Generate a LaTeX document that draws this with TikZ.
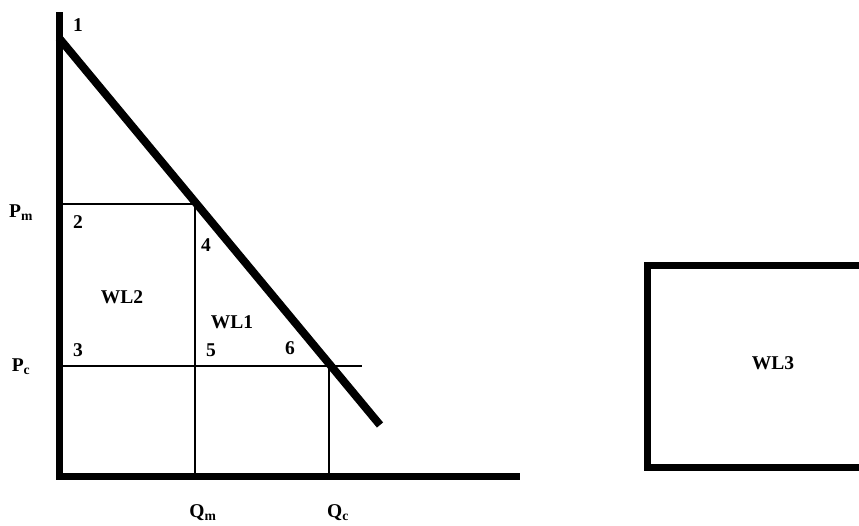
\documentclass[tikz,border=0pt]{standalone}
\usepackage{fontspec}
\setmainfont{Liberation Serif}
\usepackage{tikz}
\usetikzlibrary{calc}
\tikzset{lbl/.style={font=\fontsize{19.5}{22}\selectfont\bfseries,inner sep=0pt}}

\begin{document}
\begin{tikzpicture}[x=1pt,y=-1pt,line cap=butt]
\useasboundingbox (0,0) rectangle (859,525);
\def\pm{204}\def\pc{366}\def\qm{195}\def\qc{329}
% axes and demand
\coordinate (O) at (59,476);
\coordinate (T) at (59,12);
\coordinate (E) at (520,476);
\coordinate (D1) at (59,38);
\coordinate (D2) at (380,425);
\draw[line width=7pt] (T) -- (O) -- (E);
\draw[line width=8pt] (D1) -- (D2);
% price and quantity lines
\draw[line width=1.6pt] (59,\pm) -- (\qm,\pm) -- (\qm,476);
\draw[line width=1.6pt] (59,\pc) -- (362,\pc);
\draw[line width=1.6pt] (\qc,\pc) -- (\qc,476);
% labels
\node[lbl] (n1) at (78,25) {1};
\node[lbl] (n2) at (78,222) {2};
\node[lbl] (n3) at (78,350) {3};
\node[lbl] (n4) at (206,245) {4};
\node[lbl] (n5) at (211,350) {5};
\node[lbl] (n6) at (290,348) {6};
\node[lbl] (wl2) at (122,297) {WL2};
\node[lbl] (wl1) at (232,322) {WL1};
\node[lbl] (pm) at (21,213) {P\textsubscript{m}};
\node[lbl] (pc) at (21,367) {P\textsubscript{c}};
\node[lbl] (qm) at (203,513) {Q\textsubscript{m}};
\node[lbl] (qc) at (338,513) {Q\textsubscript{c}};
% third loss
\draw[line width=7pt] (880,265) -- (647,265) -- (647,467) -- (880,467);
\node[lbl] (wl3) at (773,363) {WL3};
\end{tikzpicture}
\end{document}
